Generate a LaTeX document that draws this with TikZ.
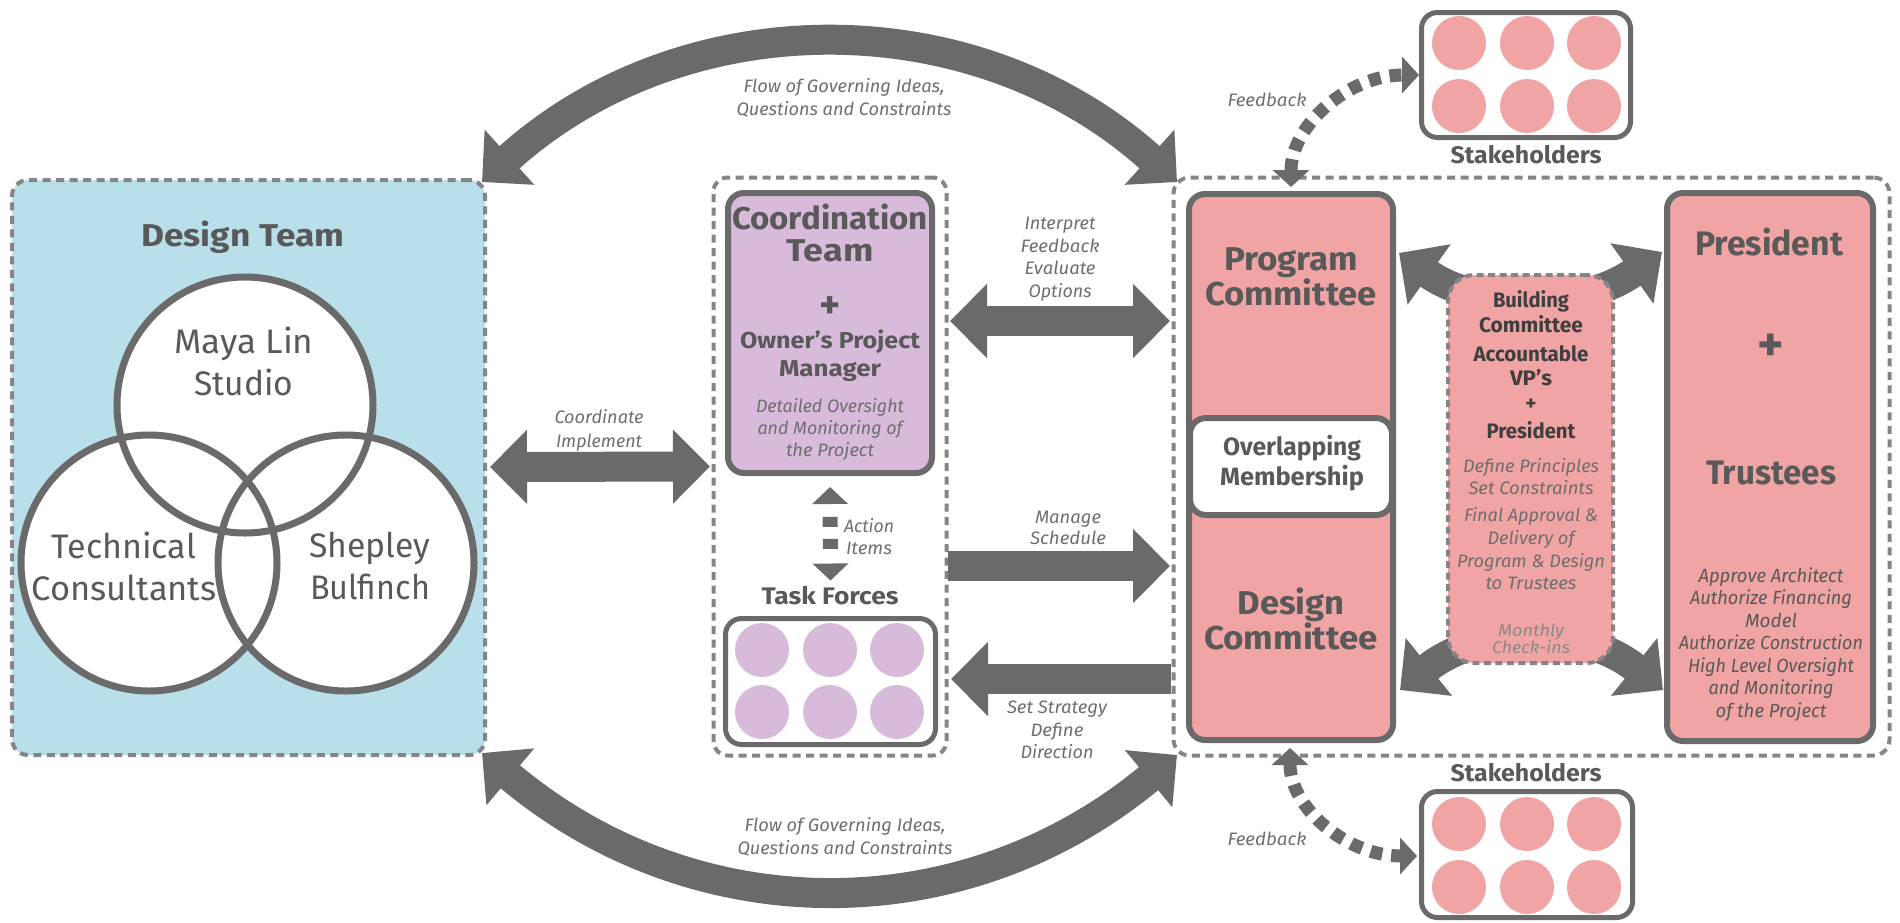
\documentclass[tikz,border=0pt]{standalone}
\usepackage{fontspec}
\usepackage{graphicx}
\setmainfont{Fira Sans}
\usetikzlibrary{arrows.meta,calc}
\definecolor{dg}{HTML}{6A6A6A}
\definecolor{dsh}{HTML}{858585}
\definecolor{tx}{HTML}{595959}
\definecolor{tl}{HTML}{6E6E6E}
\definecolor{tk}{HTML}{3F3F3F}
\definecolor{tm}{HTML}{8A8A8A}
\definecolor{bluef}{HTML}{B8DFEA}
\definecolor{pinkf}{HTML}{F0A4A3}
\definecolor{purpf}{HTML}{D8BADA}
\newcommand{\fsz}[2]{\fontsize{#1}{#2}\selectfont}
\newcommand{\fw}[2]{\resizebox{#1pt}{\height}{#2}}
\tikzset{
  every node/.style={inner sep=0pt, outer sep=0pt},
  dbox/.style={draw=dsh, line width=4pt, dash pattern=on 8pt off 5.5pt, rounded corners=16pt},
  sbox/.style={draw=dg, line width=6pt, rounded corners=16pt},
  vfill/.style={circle, fill=white, minimum size=256pt},
  ring/.style={draw=dg, line width=7pt},
  dot/.style={circle, minimum size=54pt},
  fh/.tip={Triangle[length=37pt,width=72pt]},
  sh/.tip={Triangle[length=17pt,width=35pt]},
  dh/.tip={Triangle[length=17pt,width=36pt]},
  fat/.style={draw=dg, line width=30pt},
  dotted arrow/.style={draw=dg, line width=13pt, dash pattern=on 12pt off 9pt},
  ctx/.style={text=tx, font=\fsz{34}{42}, align=center},
  ttl/.style={text=tx, font=\bfseries\fsz{33}{33}, align=center},
  lbl/.style={text=tl, font=\itshape\fsz{18}{22.5}, align=center},
  bk/.style={text=tk, font=\bfseries\fsz{21}{25}, align=center},
}
\begin{document}
\begin{tikzpicture}[x=1pt,y=-1pt]
\useasboundingbox (0,0) rectangle (1900,922);
% containers
\node[dbox, fill=bluef, minimum width=473pt, minimum height=575pt] (design) at (248.5,467.5) {};
\node[dbox, rounded corners=14pt, minimum width=233pt, minimum height=578pt] (mid) at (830,466.5) {};
\node[dbox, minimum width=716pt, minimum height=578pt] (right) at (1531.5,466.5) {};
% venn
\node[vfill] (maya) at (245,405) {};
\node[vfill] (tech) at (149,563) {};
\node[vfill] (shep) at (346,563) {};
\draw[ring] (maya.center) circle[radius=128pt];
\draw[ring] (tech.center) circle[radius=128pt];
\draw[ring] (shep.center) circle[radius=128pt];
% middle column
\node[sbox, fill=purpf, minimum width=204pt, minimum height=280pt] (coord) at (830,333) {};
\node[sbox, line width=5pt, fill=white, minimum width=210pt, minimum height=126pt] (task) at (830.5,681.5) {};
\foreach \i/\x in {1/762,2/830,3/897}{
  \foreach \j/\y in {1/650,2/712}{
    \node[dot, fill=purpf] (tf\i\j) at (\x,\y) {};
  }
}
% right column
\node[sbox, fill=pinkf, minimum width=204pt, minimum height=546pt] (pd) at (1291,467) {};
\node[sbox, fill=white, minimum width=202pt, minimum height=97pt] (overlap) at (1291,466.5) {};
\node[sbox, fill=pinkf, minimum width=206pt, minimum height=548pt] (pres) at (1770,467) {};
\draw[fat, fh-fh] ($(pd.north east)+(6,59)$) .. controls +(80,57) and +(-80,57) .. ($(pres.north west)+(-5,59)$);
\draw[fat, fh-fh] ($(pd.south east)+(7,-50)$) .. controls +(80,-64) and +(-80,-64) .. ($(pres.south west)+(-4,-51)$);
\node[dbox, dash pattern=on 7pt off 4.5pt, rounded corners=26pt, fill=pinkf, minimum width=165pt, minimum height=388pt] (build) at (1530.5,469) {};
% stakeholders
\node[sbox, line width=5pt, fill=white, minimum width=209pt, minimum height=125pt] (stk1) at (1526,75) {};
\node[sbox, line width=5pt, fill=white, minimum width=211pt, minimum height=126pt] (stk2) at (1527,854.5) {};
\foreach \i/\x in {1/1459,2/1527,3/1594}{
  \node[dot, fill=pinkf] (sa\i) at (\x,43) {};
  \node[dot, fill=pinkf] (sb\i) at (\x,106) {};
  \node[dot, fill=pinkf] (sc\i) at (\x,824) {};
  \node[dot, fill=pinkf] (sd\i) at (\x,887) {};
}
% big arcs
\draw[fat, fh-fh] ($(design.north east)+(-3,2)$) .. controls +(202,-182) and +(-202,-182) .. ($(right.north west)+(3.5,4.5)$);
\draw[fat, fh-fh] ($(design.south east)+(-3,-2)$) .. controls +(213,179) and +(-213,177) .. ($(right.south west)+(3.5,-0.5)$);
% straight arrows
\draw[fat, fh-fh] ($(design.east)+(5,-0.5)$) -- ($(mid.west)+(-3.5,0)$);
\draw[fat, fh-fh] ($(mid.east)+(3.5,-145.5)$) -- ($(right.west)+(-3.5,-145.5)$);
\draw[fat, -fh] ($(mid.east)+(1.5,99.5)$) -- ($(right.west)+(-3.5,99.5)$);
\draw[fat, -fh] ($(right.west)+(-2.5,212.5)$) -- ($(mid.east)+(4.5,212.5)$);
% action items
\draw[draw=dg, line width=15pt, dash pattern=on 0pt off 14pt on 10pt off 12pt on 10pt off 30pt, sh-sh] ($(coord.south)+(0,14)$) -- ($(task.north)+(0,-38)$);
% feedback
\draw[dotted arrow, dh-dh] ($(pd.north)+(0,-7)$) .. controls +(0,-62) and +(-70,0) .. ($(stk1.west)+(-2.5,0)$);
\draw[dotted arrow, dh-dh] ($(pd.south)+(-1,8)$) .. controls +(0,60) and +(-70,0) .. ($(stk2.west)+(-4.5,1.5)$);
% texts
\node[ttl, font=\bfseries\fsz{31.5}{33}] (tdesign) at (243,237) {\fw{203}{Design Team}};
\node[ctx] (tmaya) at (244,361) {\fw{139}{Maya Lin}\\\fw{99}{Studio}};
\node[ctx] (ttech) at (124,566) {\fw{144}{Technical}\\\fw{185}{Consultants}};
\node[ctx] (tshep) at (370,566) {\fw{121}{Shepley}\\\fw{120}{Bulfinch}};
\node[lbl] (tflow1) at (844,98) {\fw{201}{Flow of Governing Ideas,}\\\fw{215}{Questions and Constraints}};
\node[lbl] (tflow2) at (845,837) {\fw{201}{Flow of Governing Ideas,}\\\fw{215}{Questions and Constraints}};
\node[lbl, font=\itshape\fsz{18}{24}] (tcoordimp) at (599,430) {\fw{89}{Coordinate}\\\fw{86}{Implement}};
\node[ttl, font=\bfseries\fsz{31.5}{32}] (tcoord) at (830,233) {\fw{196}{Coordination}\\\fw{87}{Team}};
\node[ttl, font=\bfseries\fsz{40}{40}] (tplus1) at (830,308) {+};
\node[ttl, font=\bfseries\fsz{23}{28}] (towner) at (830,356) {\fw{180}{Owner’s Project}\\\fw{102}{Manager}};
\node[lbl, font=\itshape\fsz{18}{22}] (tdet) at (830,429) {\fw{148}{Detailed Oversight}\\\fw{145}{and Monitoring of}\\\fw{88}{the Project}};
\node[lbl, font=\itshape\fsz{18}{22}] (tact) at (869,537) {\fw{50}{Action}\\\fw{46}{Items}};
\node[ttl, font=\bfseries\fsz{24}{25}] (ttask) at (830,596) {\fw{137}{Task Forces}};
\node[lbl] (tinterp) at (1060,259) {\fw{71}{Interpret}\\\fw{79}{Feedback}\\\fw{71}{Evaluate}\\\fw{63}{Options}};
\node[lbl, font=\itshape\fsz{18}{21}] (tmanage) at (1068,527.5) {\fw{66}{Manage}\\\fw{76}{Schedule}};
\node[lbl] (tset) at (1057,730) {\fw{100}{Set Strategy}\\\fw{53}{Define}\\\fw{73}{Direction}};
\node[lbl] (tfb1) at (1267,100) {\fw{79}{Feedback}};
\node[lbl] (tfb2) at (1267,839) {\fw{79}{Feedback}};
\node[ttl, font=\bfseries\fsz{24}{25}] (tstk1) at (1526,155) {\fw{151}{Stakeholders}};
\node[ttl, font=\bfseries\fsz{24}{25}] (tstk2) at (1526,773) {\fw{151}{Stakeholders}};
\node[ttl] (tprog) at (1291,276.5) {\fw{134}{Program}\\\fw{172}{Committee}};
\node[ttl, font=\bfseries\fsz{25}{30}] (tover) at (1292,463) {\fw{138}{Overlapping}\\\fw{144}{Membership}};
\node[ttl] (tdesc) at (1291,618.5) {\fw{107}{Design}\\\fw{174}{Committee}};
\node[bk] (tbuild) at (1531,311.5) {\fw{76}{Building}\\\fw{104}{Committee}};
\node[bk, font=\bfseries\fsz{21}{24}] (tacc) at (1531,366) {\fw{115}{Accountable}\\\fw{42}{VP’s}};
\node[bk] (tplus2) at (1531,405) {+};
\node[bk] (tpresb) at (1531,430) {\fw{89}{President}};
\node[lbl, font=\itshape\fsz{18}{22}] (tdef) at (1531,477) {\fw{136}{Define Principles}\\\fw{125}{Set Constraints}};
\node[lbl, font=\itshape\fsz{18}{22.7}] (tfinal) at (1531,549) {\fw{134}{Final Approval \&}\\\fw{87}{Delivery of}\\\fw{148}{Program \& Design}\\\fw{91}{to Trustees}};
\node[lbl, text=tm, font=\itshape\fsz{17}{17}] (tmonth) at (1531,638.5) {\fw{66}{Monthly}\\\fw{78}{Check-ins}};
\node[ttl, font=\bfseries\fsz{34}{33}] (tpres) at (1769,242) {\fw{148}{President}};
\node[ttl, font=\bfseries\fsz{50}{50}] (tplus3) at (1771,348) {+};
\node[ttl, font=\bfseries\fsz{34}{33}] (ttrust) at (1771,473) {\fw{130}{Trustees}};
\node[lbl, text=tx, font=\itshape\fsz{19}{22.5}] (tappr) at (1771,644.5) {\fw{145}{Approve Architect}\\\fw{162}{Authorize Financing}\\\fw{52}{Model}\\\fw{184}{Authorize Construction}\\\fw{166}{High Level Oversight}\\\fw{125}{and Monitoring}\\\fw{111}{of the Project}};
\end{tikzpicture}
\end{document}
